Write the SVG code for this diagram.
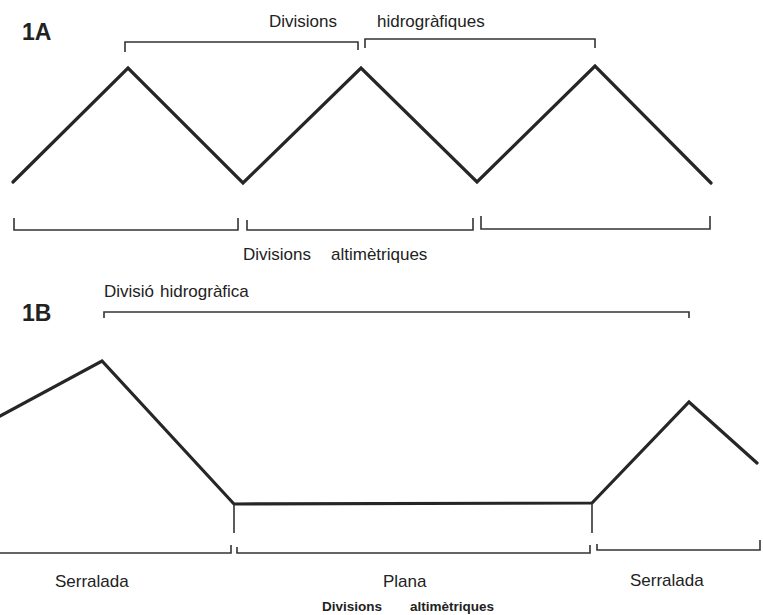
<svg xmlns="http://www.w3.org/2000/svg" width="763" height="615" viewBox="0 0 763 615">
<style>
.prof{fill:none;stroke:#262626;stroke-width:3.2;stroke-linejoin:miter;stroke-linecap:round}
.br{fill:none;stroke:#333;stroke-width:1.6}
.t{font-family:"Liberation Sans",Arial,sans-serif;fill:#222;font-size:17px}
.big{font-family:"Liberation Sans",Arial,sans-serif;fill:#222;font-size:23px;font-weight:bold}
.b{font-family:"Liberation Sans",Arial,sans-serif;fill:#222;font-size:13.5px;font-weight:bold}
</style>
<rect width="763" height="615" fill="#fff"/>
<g id="panel-1A">
  <text class="big" x="22" y="40">1A</text>
  <g id="hydro-1A">
    <path class="br" d="M125,52 V42 H358 V50"/>
    <path class="br" d="M365,48 V39 H595 V48"/>
    <text class="t" x="269" y="27">Divisions</text>
    <text class="t" x="377" y="27">hidrogràfiques</text>
  </g>
  <path id="profile-1A" class="prof" d="M13,182 L128,68 L243,183 L361,68 L477,182 L595,66 L711,183"/>
  <g id="alti-1A">
    <path class="br" d="M14,218 V230 H238 V218"/>
    <path class="br" d="M247,220 V230 H473 V218"/>
    <path class="br" d="M481,216 V229 H710 V216"/>
    <text class="t" x="243" y="260" font-size="16.5">Divisions</text>
    <text class="t" x="331" y="260" font-size="16.5">altimètriques</text>
  </g>
</g>
<g id="panel-1B">
  <text class="big" x="22" y="321">1B</text>
  <g id="hydro-1B">
    <text class="t" x="104" y="297">Divisió</text>
    <text class="t" x="160" y="297">hidrogràfica</text>
    <path class="br" d="M104,318 V312 H689 V318"/>
  </g>
  <path id="profile-1B" class="prof" d="M0,416 L102,361 L234,504 L592,503 L689,402 L757,463"/>
  <g id="alti-1B">
    <path class="br" d="M234,504 V533"/>
    <path class="br" d="M592,503 V533"/>
    <path class="br" d="M0,553 H231 V545"/>
    <path class="br" d="M237,547 V553 H590 V545"/>
    <path class="br" d="M597,544 V550 H760 V540"/>
    <text class="t" x="55" y="587" font-size="16">Serralada</text>
    <text class="t" x="383" y="587" font-size="16">Plana</text>
    <text class="t" x="630" y="586" font-size="16">Serralada</text>
    <text class="b" x="322" y="611">Divisions</text>
    <text class="b" x="410" y="611">altimètriques</text>
  </g>
</g>
</svg>
